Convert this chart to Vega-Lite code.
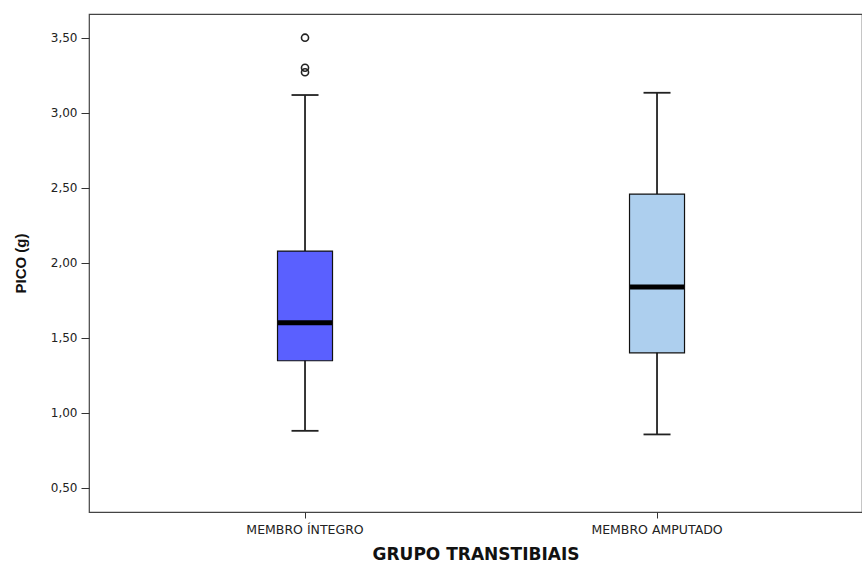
{
  "$schema": "https://vega.github.io/schema/vega-lite/v6.json",
  "autosize": "none",
  "width": 773,
  "height": 498,
  "padding": {"left": 89, "top": 14, "right": 0, "bottom": 51},
  "background": "white",
  "config": {
    "font": "DejaVu Sans",
    "view": {"stroke": "#444444", "strokeWidth": 1.2},
    "axis": {"domain": false, "grid": false, "tickColor": "#333333", "labelColor": "#222222", "titleColor": "#111111"}
  },
  "datasets": {
    "stats": [
      {"grupo": "MEMBRO ÍNTEGRO", "min": 0.88, "q1": 1.347, "mediana": 1.60, "q3": 2.078, "max": 3.118},
      {"grupo": "MEMBRO AMPUTADO", "min": 0.856, "q1": 1.40, "mediana": 1.838, "q3": 2.458, "max": 3.133}
    ],
    "outliers": [
      {"grupo": "MEMBRO ÍNTEGRO", "valor": 3.50},
      {"grupo": "MEMBRO ÍNTEGRO", "valor": 3.30},
      {"grupo": "MEMBRO ÍNTEGRO", "valor": 3.27}
    ]
  },
  "encoding": {
    "x": {
      "field": "grupo",
      "type": "nominal",
      "scale": {"domain": ["MEMBRO ÍNTEGRO", "MEMBRO AMPUTADO"], "paddingInner": 0, "paddingOuter": 0.098, "align": 0.58},
      "axis": {"title": "GRUPO TRANSTIBIAIS", "labelAngle": 0, "labelFont": "DejaVu Sans", "labelFontSize": 12.5, "labelPadding": 5, "tickSize": 6, "titleFont": "DejaVu Sans", "titleFontSize": 17, "titleFontWeight": "bold", "titlePadding": 11}
    }
  },
  "layer": [
    {
      "data": {"name": "stats"},
      "mark": {"type": "rule", "color": "#222222", "strokeWidth": 1.8},
      "encoding": {
        "y": {
          "field": "min", "type": "quantitative",
          "scale": {"domain": [0.339, 3.658], "nice": false, "zero": false},
          "axis": {"title": "PICO (g)", "values": [0.5, 1, 1.5, 2, 2.5, 3, 3.5], "labelExpr": "replace(format(datum.value, '.2f'), '.', ',')", "labelFont": "DejaVu Sans", "labelFontSize": 12, "tickSize": 8, "labelPadding": 4, "titleFont": "Liberation Sans", "titleFontSize": 15, "titleFontWeight": "bold", "titlePadding": 22}
        },
        "y2": {"field": "max"}
      }
    },
    {
      "data": {"name": "stats"},
      "mark": {"type": "bar", "size": 55, "stroke": "#111111", "strokeWidth": 1.2},
      "encoding": {
        "y": {"field": "q1", "type": "quantitative"},
        "y2": {"field": "q3"},
        "fill": {"field": "grupo", "type": "nominal", "scale": {"domain": ["MEMBRO ÍNTEGRO", "MEMBRO AMPUTADO"], "range": ["#5A60FF", "#ADCFEE"]}, "legend": null}
      }
    },
    {
      "data": {"name": "stats"},
      "mark": {"type": "tick", "size": 54, "thickness": 5, "color": "#000000", "opacity": 1},
      "encoding": {"y": {"field": "mediana", "type": "quantitative"}}
    },
    {
      "data": {"name": "stats"},
      "mark": {"type": "tick", "size": 27, "thickness": 1.8, "color": "#222222", "opacity": 1},
      "encoding": {"y": {"field": "min", "type": "quantitative"}}
    },
    {
      "data": {"name": "stats"},
      "mark": {"type": "tick", "size": 27, "thickness": 1.8, "color": "#222222", "opacity": 1},
      "encoding": {"y": {"field": "max", "type": "quantitative"}}
    },
    {
      "data": {"name": "outliers"},
      "mark": {"type": "point", "shape": "circle", "size": 50, "filled": false, "stroke": "#222222", "strokeWidth": 1.6, "opacity": 1},
      "encoding": {"y": {"field": "valor", "type": "quantitative"}}
    }
  ]
}
